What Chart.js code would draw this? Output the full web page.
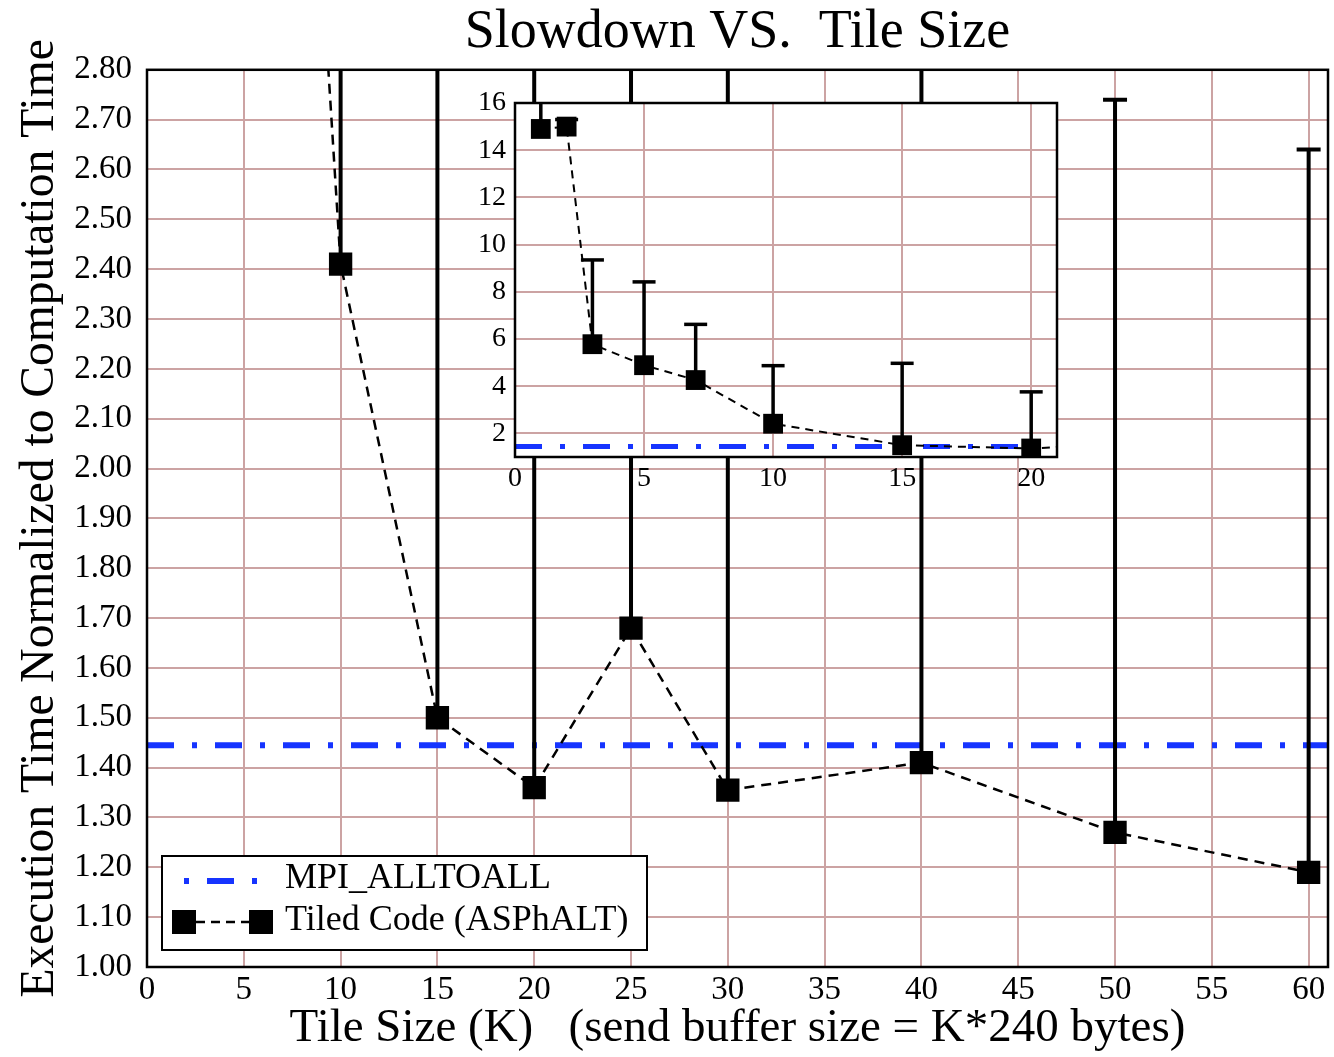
<!DOCTYPE html>
<html>
<head>
<meta charset="utf-8">
<title>Slowdown VS. Tile Size</title>
<script src="https://cdn.jsdelivr.net/npm/chart.js@4.4.0/dist/chart.umd.min.js"></script>
<style>
  html, body { margin: 0; padding: 0; background: #fff; }
  #wrap { position: relative; width: 1334px; height: 1057px; overflow: hidden; }
  #main { position: absolute; left: 0; top: 0; }
  #inset { position: absolute; left: 440px; top: 80px; }
</style>
</head>
<body>
<div id="wrap">
  <canvas id="main" width="1334" height="1057"></canvas>
  <canvas id="inset" width="640" height="440"></canvas>
</div>
<script>
// ---- data ----
const tileSizes     = [1, 2, 3, 5, 7, 10, 15, 20, 25, 30, 40, 50, 60];
const slowdown      = [14.9, 15.0, 5.78, 4.89, 4.26, 2.41, 1.50, 1.36, 1.68, 1.355, 1.41, 1.27, 1.19];
const slowdownUpper = [17.2, 15.3, 9.35, 8.42, 6.62, 4.87, 4.97, 3.76, 3.40, 3.20, 3.60, 2.74, 2.64];
const mpiAlltoall   = 1.445;
const seriesLabels  = ['MPI_ALLTOALL', 'Tiled Code (ASPhALT)'];

const mainXTicks  = [0, 5, 10, 15, 20, 25, 30, 35, 40, 45, 50, 55, 60];
const mainYTicks  = [1.0, 1.1, 1.2, 1.3, 1.4, 1.5, 1.6, 1.7, 1.8, 1.9, 2.0, 2.1, 2.2, 2.3, 2.4, 2.5, 2.6, 2.7, 2.8];
const insetXTicks = [0, 5, 10, 15, 20];
const insetYTicks = [2, 4, 6, 8, 10, 12, 14, 16];

const SERIF = "'Liberation Serif', 'Times New Roman', serif";
const GRID = 'rgb(204, 163, 163)';
const BLUE = 'rgb(22, 52, 255)';

// vertical error bars (upper side only) drawn through the chart's scales
const errorBarPlugin = {
  id: 'errorBars',
  afterDatasetsDraw(chart, args, o) {
    const { ctx, chartArea: a, scales: { x, y } } = chart;
    ctx.save();
    ctx.beginPath();
    ctx.rect(a.left, a.top, a.right - a.left, a.bottom - a.top);
    ctx.clip();
    ctx.strokeStyle = '#000';
    ctx.lineWidth = o.lineWidth;
    tileSizes.forEach((xv, i) => {
      const px = x.getPixelForValue(xv);
      const py = y.getPixelForValue(slowdown[i]);
      const pu = y.getPixelForValue(slowdownUpper[i]);
      ctx.beginPath();
      ctx.moveTo(px, py);
      ctx.lineTo(px, pu);
      ctx.stroke();
      ctx.beginPath();
      ctx.moveTo(px - o.capWidth / 2, pu);
      ctx.lineTo(px + o.capWidth / 2, pu);
      ctx.stroke();
    });
    ctx.restore();
  }
};

// white plot background and a closed frame around the plot area
const framePlugin = {
  id: 'frame',
  beforeDraw(chart) {
    const { ctx, chartArea: a } = chart;
    ctx.save();
    ctx.fillStyle = '#fff';
    ctx.fillRect(a.left, a.top, a.right - a.left, a.bottom - a.top);
    ctx.restore();
  },
  afterDraw(chart, args, o) {
    const { ctx, chartArea: a } = chart;
    ctx.save();
    ctx.strokeStyle = '#000';
    ctx.lineWidth = o.lineWidth;
    ctx.strokeRect(a.left, a.top, a.right - a.left, a.bottom - a.top);
    ctx.restore();
  }
};

// boxed legend in the lower-left corner of the plot
const legendBoxPlugin = {
  id: 'legendBox',
  afterDraw(chart, args, o) {
    if (!o.display) return;
    const { ctx, chartArea: a } = chart;
    const ds = chart.data.datasets;
    const bx = a.left + 15, by = a.bottom - 111, bw = 485, bh = 94;
    ctx.save();
    ctx.fillStyle = '#fff';
    ctx.fillRect(bx, by, bw, bh);
    ctx.strokeStyle = '#000';
    ctx.lineWidth = 2;
    ctx.strokeRect(bx, by, bw, bh);

    const r1 = by + 25, r2 = by + 66;
    // MPI sample: dot - dash - dot
    const d = ds[0].borderDash;
    ctx.strokeStyle = ds[0].borderColor;
    ctx.lineWidth = ds[0].borderWidth;
    ctx.setLineDash(d);
    ctx.lineDashOffset = d[0] + d[1];
    ctx.beginPath();
    ctx.moveTo(bx + 22, r1);
    ctx.lineTo(bx + 97, r1);
    ctx.stroke();

    // tiled code sample: square - dashes - square
    const s1 = bx + 22, s2 = bx + 99, half = 12;
    ctx.strokeStyle = '#000';
    ctx.lineWidth = ds[1].borderWidth;
    ctx.setLineDash([9, 6]);
    ctx.lineDashOffset = 0;
    ctx.beginPath();
    ctx.moveTo(s1 + half, r2);
    ctx.lineTo(s2 - half, r2);
    ctx.stroke();
    ctx.setLineDash([]);
    ctx.fillStyle = '#000';
    ctx.fillRect(s1 - half, r2 - half, 2 * half, 2 * half);
    ctx.fillRect(s2 - half, r2 - half, 2 * half, 2 * half);

    ctx.font = '36px ' + SERIF;
    ctx.textBaseline = 'middle';
    ctx.textAlign = 'left';
    ctx.fillText(ds[0].label, bx + 123, r1 - 2);
    ctx.fillText(ds[1].label, bx + 123, r2 - 1);
    ctx.restore();
  }
};

function buildDatasets(s) {
  return [
    {
      label: seriesLabels[0],
      data: [{ x: s.xMin, y: mpiAlltoall }, { x: s.xMax, y: mpiAlltoall }],
      borderColor: BLUE,
      borderWidth: s.mpiWidth,
      borderDash: [27, 18, 5, 18],
      pointRadius: 0,
      fill: false,
      order: 2
    },
    {
      label: seriesLabels[1],
      data: tileSizes.map((x, i) => ({ x, y: slowdown[i] })),
      borderColor: '#000',
      borderWidth: s.lineWidth,
      borderDash: s.dash,
      backgroundColor: '#000',
      pointStyle: 'rect',
      pointRadius: s.pointRadius,
      pointBorderWidth: 0,
      pointBackgroundColor: '#000',
      tension: 0,
      fill: false,
      order: 1
    }
  ];
}

// keep the plot area edges fixed regardless of label overhang
const noOverhang = s => { s.paddingLeft = 0; s.paddingRight = 0; s.paddingTop = 0; s.paddingBottom = 0; };

// ---- main chart ----
new Chart(document.getElementById('main'), {
  type: 'line',
  data: { datasets: buildDatasets({ xMin: 0, xMax: 61, mpiWidth: 6, lineWidth: 2.5, dash: [10, 7], pointRadius: 16.5 }) },
  plugins: [framePlugin, errorBarPlugin, legendBoxPlugin],
  options: {
    responsive: false,
    animation: false,
    devicePixelRatio: 1,
    layout: { autoPadding: false, padding: { left: 0, right: 6, top: 0, bottom: 0 } },
    plugins: {
      legend: { display: false },
      tooltip: { enabled: false },
      title: {
        display: true,
        fullSize: false,
        text: 'Slowdown VS.  Tile Size',
        color: '#000',
        font: { family: SERIF, size: 54, weight: 'normal' },
        padding: { top: 0, bottom: 5 }
      },
      frame: { lineWidth: 2.5 },
      errorBars: { lineWidth: 4, capWidth: 24 },
      legendBox: { display: true }
    },
    scales: {
      x: {
        type: 'linear',
        min: 0,
        max: 61,
        afterBuildTicks: s => { s.ticks = mainXTicks.map(v => ({ value: v })); },
        afterFit: s => { s.height = 90; noOverhang(s); },
        ticks: {
          color: '#000',
          font: { family: SERIF, size: 33 },
          padding: 4,
          maxRotation: 0,
          autoSkip: false,
          callback: v => String(v)
        },
        grid: { color: GRID, lineWidth: 2, drawTicks: false },
        border: { display: false },
        title: {
          display: true,
          text: 'Tile Size (K)   (send buffer size = K*240 bytes)',
          color: '#000',
          font: { family: SERIF, size: 47 },
          padding: { top: 0, bottom: 0 }
        }
      },
      y: {
        type: 'linear',
        min: 1,
        max: 2.8,
        afterBuildTicks: s => { s.ticks = mainYTicks.map(v => ({ value: v })); },
        afterFit: s => { s.width = 147; noOverhang(s); },
        ticks: {
          color: '#000',
          font: { family: SERIF, size: 33 },
          padding: 15,
          autoSkip: false,
          callback: v => Number(v).toFixed(2)
        },
        grid: { color: GRID, lineWidth: 2, drawTicks: false },
        border: { display: false },
        title: {
          display: true,
          text: 'Execution Time Normalized to Computation Time',
          color: '#000',
          font: { family: SERIF, size: 47.5 },
          padding: { top: 12, bottom: 0 }
        }
      }
    }
  }
});

// ---- inset: full range of the tiled code ----
new Chart(document.getElementById('inset'), {
  type: 'line',
  data: { datasets: buildDatasets({ xMin: 0, xMax: 21, mpiWidth: 5, lineWidth: 2, dash: [8, 6], pointRadius: 14 }) },
  plugins: [framePlugin, errorBarPlugin],
  options: {
    responsive: false,
    animation: false,
    devicePixelRatio: 1,
    layout: { autoPadding: false, padding: { left: 0, right: 23, top: 23, bottom: 0 } },
    plugins: {
      legend: { display: false },
      tooltip: { enabled: false },
      title: { display: false },
      frame: { lineWidth: 2.5 },
      errorBars: { lineWidth: 3.5, capWidth: 23 }
    },
    scales: {
      x: {
        type: 'linear',
        min: 0,
        max: 21,
        afterBuildTicks: s => { s.ticks = insetXTicks.map(v => ({ value: v })); },
        afterFit: s => { s.height = 63; noOverhang(s); },
        ticks: {
          color: '#000',
          font: { family: SERIF, size: 28 },
          padding: 5,
          maxRotation: 0,
          autoSkip: false,
          callback: v => String(v)
        },
        grid: { color: GRID, lineWidth: 2, drawTicks: false },
        border: { display: false }
      },
      y: {
        type: 'linear',
        min: 1,
        max: 16,
        afterBuildTicks: s => { s.ticks = insetYTicks.map(v => ({ value: v })); },
        afterFit: s => { s.width = 75; noOverhang(s); },
        ticks: {
          color: '#000',
          font: { family: SERIF, size: 28 },
          padding: 9,
          autoSkip: false,
          callback: v => String(v)
        },
        grid: { color: GRID, lineWidth: 2, drawTicks: false },
        border: { display: false }
      }
    }
  }
});
</script>
</body>
</html>
